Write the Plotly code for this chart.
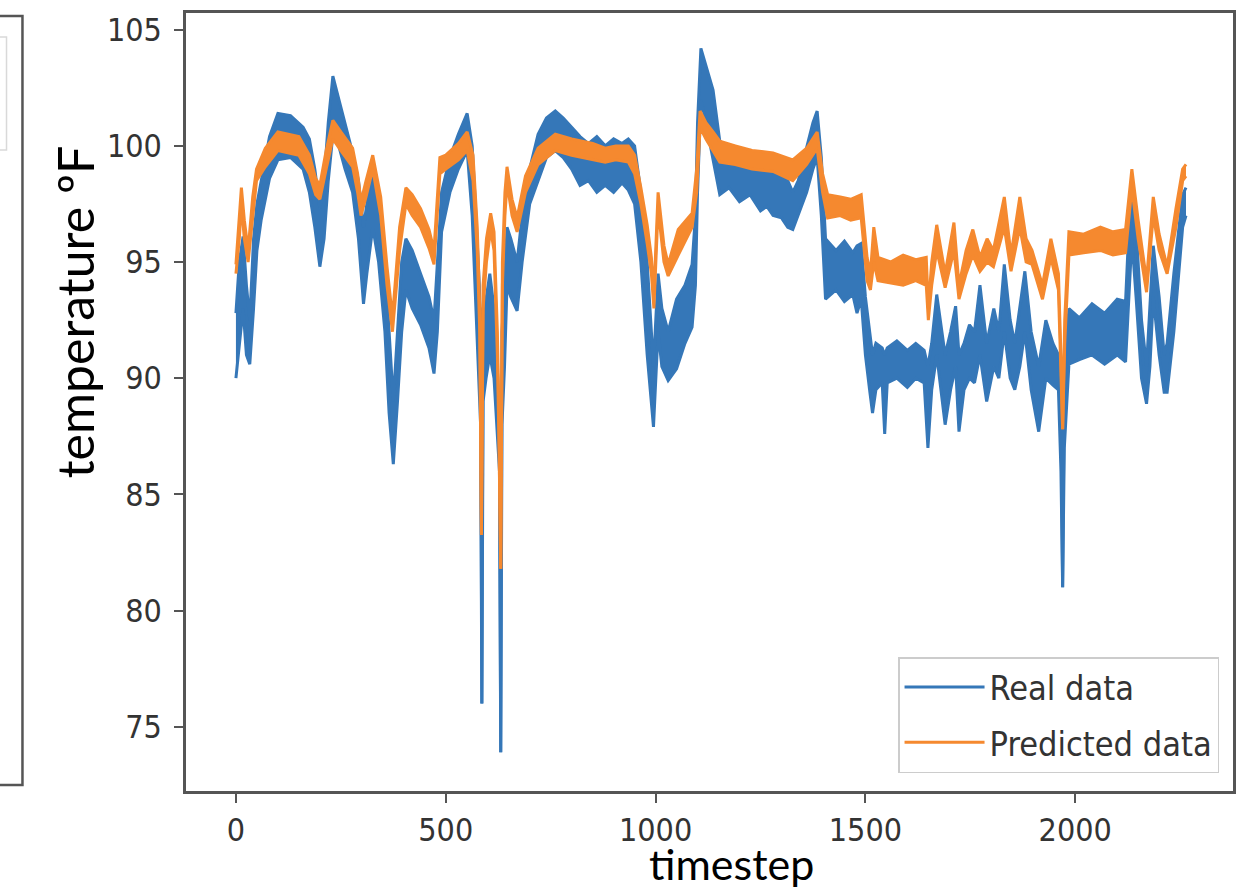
import plotly.graph_objects as go

# ---- data: each noisy series as its upper / lower extent ----
real_x = [0, 8, 17, 25, 33, 42, 50, 60, 80, 100,
          130, 160, 175, 188, 200, 210, 220, 231, 245, 260,
          278, 292, 304, 312, 326, 340, 355, 365, 375, 385,
          395, 405, 420, 440, 460, 472, 480, 490, 510, 530,
          551, 563, 572, 580, 583, 586, 589, 596, 605, 615,
          624, 628, 631, 634, 640, 646, 655, 670, 682, 700,
          720, 740, 761, 780, 800, 820, 840, 860, 880, 900,
          920, 935, 950, 965, 980, 995, 1006, 1015, 1030, 1050,
          1070, 1087, 1095, 1100, 1108, 1120, 1137, 1153, 1175, 1200,
          1225, 1250, 1265, 1280, 1300, 1315, 1327, 1340, 1360, 1375,
          1385, 1395, 1405, 1430, 1450, 1470, 1480, 1490, 1500, 1510,
          1517, 1525, 1540, 1546, 1552, 1575, 1600, 1620, 1640, 1649,
          1658, 1670, 1690, 1703, 1715, 1723, 1735, 1748, 1760, 1773,
          1789, 1806, 1818, 1831, 1845, 1856, 1868, 1880, 1895, 1913,
          1930, 1947, 1960, 1966, 1970, 1974, 1985, 2010, 2040, 2070,
          2100, 2120, 2128, 2135, 2145, 2158, 2170, 2178, 2186, 2200,
          2212, 2219, 2235, 2256, 2264]
real_hi = [92.8, 95.0, 96.1, 94.0, 92.5, 96.0, 97.5, 98.5, 100.4, 101.4,
           101.3, 100.8, 100.3, 99.0, 97.3, 98.5, 101.0, 103.0, 102.0, 101.0,
           99.7, 98.5, 96.5, 97.5, 99.4, 98.0, 95.0, 92.0, 89.0, 92.0,
           95.0, 96.0, 95.5, 94.5, 93.5, 92.5, 95.0, 98.0, 99.5, 100.5,
           101.4, 100.0, 97.0, 94.0, 92.0, 76.0, 93.0, 93.4, 94.5, 93.0,
           90.0, 88.0, 73.9, 92.0, 94.0, 96.5, 96.0, 95.0, 97.0, 99.0,
           100.5, 101.2, 101.5, 101.2, 100.8, 100.4, 100.1, 100.4, 100.0, 100.3,
           100.1, 100.3, 100.0, 98.0, 95.0, 90.5, 94.5, 93.0, 92.0, 93.4,
           94.0, 94.9, 97.0, 101.0, 104.2, 103.5, 102.4, 100.2, 100.0, 99.6,
           99.8, 99.3, 99.5, 99.1, 99.0, 98.5, 98.0, 98.5, 100.0, 101.0,
           101.5, 99.5, 96.0, 95.5, 95.9, 95.4, 95.7, 95.8, 93.5, 92.0,
           91.0, 91.5, 91.3, 91.0, 91.3, 91.6, 91.2, 91.5, 91.2, 90.5,
           91.5, 93.6, 91.0, 92.0, 93.1, 91.0, 91.5, 92.3, 92.0, 94.0,
           91.5, 93.0, 92.0, 94.9, 92.5, 91.5, 93.0, 94.6, 92.0, 90.5,
           92.5, 91.5, 91.0, 89.0, 81.0, 90.0, 93.0, 92.6, 93.2, 92.8,
           93.4, 93.3, 96.5, 98.2, 96.5, 92.5, 90.5, 93.0, 95.7, 93.5,
           91.0, 91.5, 94.5, 97.9, 98.2]
real_lo = [90.0, 91.5, 93.0, 91.0, 90.6, 93.0, 95.5, 96.8, 98.6, 99.4,
           99.5, 99.0, 98.0, 96.5, 94.8, 96.0, 98.5, 100.5, 100.0, 99.0,
           98.0, 96.0, 93.2, 94.5, 96.5, 95.0, 92.0, 88.5, 86.3, 89.0,
           92.0, 93.8, 93.0, 92.3, 91.3, 90.2, 92.0, 96.3, 98.0, 99.0,
           99.8, 97.0, 93.0, 89.5, 88.0, 76.0, 89.0, 90.0, 91.0, 90.0,
           87.0, 86.0, 73.9, 88.0, 90.5, 94.0, 93.5, 92.9, 95.0, 97.5,
           98.5, 99.5, 99.8, 99.5, 99.0, 98.3, 98.5, 98.0, 98.3, 98.0,
           98.4, 98.1, 97.5, 95.0, 91.0, 87.9, 92.0, 90.5, 89.9, 90.4,
           91.5, 92.2, 94.0, 98.0, 102.0, 101.0, 99.4, 97.9, 98.2, 97.6,
           97.9, 97.2, 97.4, 97.0, 96.9, 96.5, 96.4, 97.0, 98.0, 99.0,
           99.5, 97.0, 93.4, 93.8, 93.3, 93.6, 92.8, 93.4, 91.0, 89.5,
           88.5, 89.5, 89.8, 87.6, 89.8, 90.0, 89.6, 90.0, 89.8, 87.0,
           89.5, 91.0, 88.0, 89.5, 90.5, 87.7, 89.5, 90.0, 89.8, 91.0,
           89.0, 90.5, 90.0, 92.0, 90.0, 89.5, 90.5, 92.0, 89.5, 87.7,
           90.0, 89.7, 89.5, 86.0, 81.0, 87.0, 90.6, 90.8, 91.0, 90.6,
           91.0, 90.7, 93.5, 96.0, 93.5, 90.0, 88.9, 90.5, 93.5, 91.0,
           89.4, 89.4, 92.0, 96.5, 97.0]

pred_x = [0, 8, 13, 20, 29, 40, 49, 70, 100, 150,
          175, 190, 200, 215, 231, 250, 278, 290, 298, 310,
          326, 345, 360, 373, 390, 405, 420, 440, 460, 472,
          480, 486, 500, 530, 551, 565, 575, 581, 585, 589,
          597, 607, 615, 623, 627, 631, 635, 641, 646, 658,
          670, 690, 720, 761, 800, 850, 880, 905, 935, 950,
          965, 980, 990, 996, 1006, 1020, 1030, 1054, 1087, 1098,
          1106, 1120, 1137, 1153, 1190, 1230, 1280, 1327, 1360, 1385,
          1398, 1410, 1440, 1465, 1490, 1497, 1504, 1512, 1520, 1530,
          1560, 1590, 1620, 1645, 1650, 1658, 1670, 1690, 1711, 1723,
          1740, 1756, 1773, 1790, 1805, 1831, 1847, 1868, 1883, 1897,
          1922, 1942, 1960, 1966, 1970, 1975, 1985, 2020, 2060, 2090,
          2120, 2135, 2150, 2170, 2186, 2200, 2219, 2240, 2256, 2264]
pred_hi = [94.9, 97.0, 98.2, 96.8, 95.5, 97.8, 99.0, 99.9, 100.6, 100.4,
           99.6, 98.6, 98.3, 99.8, 101.1, 100.6, 99.9, 98.8, 97.6, 98.5,
           99.6, 97.8, 94.8, 92.6, 96.5, 98.2, 97.9, 97.3, 96.4, 95.5,
           98.0, 99.5, 99.6, 100.1, 100.6, 99.6, 96.5, 93.0, 83.25, 94.0,
           96.0, 97.1, 96.3, 92.0, 88.0, 81.8, 95.0, 98.0, 99.1, 97.7,
           96.9, 98.7, 99.9, 100.5, 100.3, 100.1, 99.9, 100.0, 100.0, 99.6,
           98.2, 96.6, 95.2, 93.6, 98.0, 95.7, 94.9, 96.4, 97.1, 99.0,
           101.5, 101.0, 100.6, 100.2, 100.0, 99.8, 99.7, 99.4, 99.9, 100.6,
           98.8, 97.9, 97.8, 97.7, 97.9, 96.5, 95.2, 94.5, 96.5, 95.2,
           95.0, 95.3, 95.1, 95.2, 93.0, 95.0, 96.6, 94.5, 96.7, 94.0,
           95.5, 96.4, 95.2, 96.0, 95.5, 97.8, 95.3, 97.8, 96.0, 95.5,
           94.0, 96.0, 94.5, 91.0, 87.8, 92.5, 96.3, 96.2, 96.5, 96.3,
           96.4, 99.0, 96.8, 94.2, 97.8, 96.2, 94.8, 97.3, 99.0, 99.2]
pred_lo = [94.5, 96.0, 97.5, 96.0, 95.0, 97.0, 98.5, 99.1, 99.8, 99.6,
           98.8, 97.9, 97.7, 99.0, 100.3, 99.8, 99.1, 98.0, 97.0, 97.8,
           99.0, 97.0, 94.0, 92.0, 95.5, 97.5, 97.0, 96.5, 95.6, 94.9,
           97.0, 98.8, 99.0, 99.4, 99.8, 98.5, 95.5, 92.0, 83.25, 93.0,
           95.0, 96.4, 95.5, 91.0, 87.0, 81.8, 94.0, 97.0, 98.4, 97.0,
           96.3, 98.0, 99.2, 99.8, 99.6, 99.4, 99.3, 99.4, 99.3, 98.8,
           97.5, 95.8, 94.5, 93.0, 97.3, 95.0, 94.4, 95.3, 96.5, 98.0,
           100.8, 100.3, 99.8, 99.3, 99.2, 99.0, 98.9, 98.5, 99.2, 99.9,
           98.0, 96.9, 97.0, 96.8, 96.9, 95.5, 94.2, 93.8, 95.0, 94.2,
           94.1, 94.0, 94.2, 94.0, 92.5, 94.0, 95.5, 93.9, 95.5, 93.4,
           94.5, 95.3, 94.6, 95.0, 94.8, 96.5, 94.6, 96.5, 95.0, 94.9,
           93.4, 95.2, 93.8, 90.0, 87.8, 91.5, 95.3, 95.4, 95.5, 95.3,
           95.4, 98.2, 96.0, 93.7, 97.0, 95.5, 94.5, 96.5, 98.5, 98.7]

x_ticks = [0, 500, 1000, 1500, 2000]
y_ticks = [75, 80, 85, 90, 95, 100, 105]
series_names = ["Real data", "Predicted data"]
series_colors = ["#3577b8", "#f5892f"]
x_title = "timestep"
y_title = "temperature ºF"

W, H = 1246, 887
L, R, T, B = 186, 10, 13, 96
pw, ph = W - L - R, H - T - B


def px(xp):
    return (xp - L) / pw


def py(yp):
    return (H - B - yp) / ph


tick_font = dict(family="DejaVu Sans Condensed, DejaVu Sans", size=32, color="#333333")

fig = go.Figure()
for name, color, xs, lo, hi, grp in [
    (series_names[0], series_colors[0], real_x, real_lo, real_hi, "a"),
    (series_names[1], series_colors[1], pred_x, pred_lo, pred_hi, "b"),
]:
    fig.add_trace(go.Scatter(x=xs, y=lo, mode="lines", name=name, legendgroup=grp,
                             line=dict(color=color, width=3), showlegend=True))
    fig.add_trace(go.Scatter(x=xs, y=hi, mode="lines", name=name, legendgroup=grp,
                             line=dict(color=color, width=3), fill="tonexty",
                             fillcolor=color, showlegend=False))

axis_common = dict(showgrid=False, zeroline=False, showline=True, mirror=True,
                   linecolor="#555555", linewidth=2.5, ticks="outside", ticklen=9,
                   tickwidth=2, tickcolor="#555555", tickfont=tick_font)

fig.update_xaxes(range=[-119, 2376], tickvals=x_ticks, ticktext=[str(v) for v in x_ticks],
                 **axis_common)
fig.update_yaxes(range=[72.23, 105.72], tickvals=y_ticks, ticktext=[str(v) for v in y_ticks],
                 ticklabelstandoff=6, **axis_common)

# partial neighbouring panel at the left edge
shapes = [
    dict(type="path", xref="paper", yref="paper",
         path=f"M {px(-5)},{py(16)} L {px(22)},{py(16)} L {px(22)},{py(785)} L {px(-5)},{py(785)}",
         line=dict(color="#555555", width=2.5)),
    dict(type="rect", xref="paper", yref="paper", x0=px(-20), x1=px(6), y0=py(150), y1=py(37),
         line=dict(color="#d9d9d9", width=1.5)),
]

annotations = [
    dict(text=y_title, xref="paper", yref="paper", x=px(75), y=py(312), textangle=-90,
         showarrow=False, font=dict(family="Lato", size=50, color="black"),
         xanchor="center", yanchor="middle"),
    dict(text=x_title, xref="paper", yref="paper", x=px(733), y=py(863),
         showarrow=False, font=dict(family="Lato", size=43, color="black"),
         xanchor="center", yanchor="middle"),
]

fig.update_layout(
    width=W, height=H, margin=dict(l=L, r=R, t=T, b=B, pad=0),
    paper_bgcolor="white", plot_bgcolor="white",
    shapes=shapes, annotations=annotations,
    legend=dict(x=px(1222), y=py(773), xanchor="right", yanchor="bottom",
                bgcolor="rgba(255,255,255,0.85)", bordercolor="#cccccc", borderwidth=1.5,
                font=dict(family="DejaVu Sans Condensed, DejaVu Sans", size=34, color="#333333"),
                tracegroupgap=8, itemwidth=80),
    showlegend=True,
)

fig.write_html("out.html")
